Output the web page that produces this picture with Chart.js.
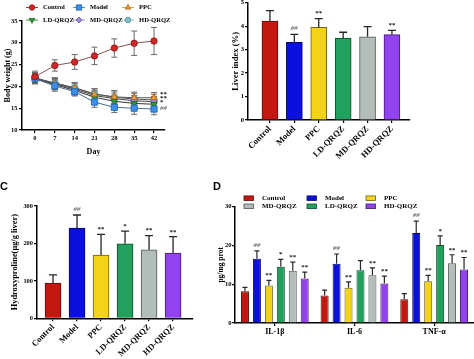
<!DOCTYPE html>
<html><head><meta charset="utf-8">
<script src="https://cdn.jsdelivr.net/npm/chart.js@4.4.0/dist/chart.umd.min.js"></script>
<style>
html,body{margin:0;padding:0;background:#fff;width:474px;height:359px;overflow:hidden;position:relative;}
canvas{position:absolute;}
.lab{position:absolute;font:bold 11px 'Liberation Sans',Arial,sans-serif;line-height:11px;color:#000;}
</style></head><body>
<canvas id="cA" width="185" height="162" style="left:0;top:0"></canvas>
<canvas id="cB" width="252" height="175" style="left:222px;top:-6px"></canvas>
<canvas id="cC" width="210" height="179" style="left:0;top:180px"></canvas>
<canvas id="cD" width="262" height="174" style="left:212px;top:185px"></canvas>
<div class="lab" style="left:0px;top:181px">C</div>
<div class="lab" style="left:213px;top:181px">D</div>
<script>
// ---------------- DATA ----------------
const days = [0, 7, 14, 21, 28, 35, 42];
const groups = ['Control', 'Model', 'PPC', 'LD-QRQZ', 'MD-QRQZ', 'HD-QRQZ'];

// A: body weight (g)
const bwControl   = [22.2, 24.8, 25.6, 27.0, 28.8, 29.9, 30.4];
const bwControlSD = [1.3, 1.3, 1.7, 2.0, 2.1, 2.8, 3.1];
const bwModel     = [21.8, 20.1, 18.8, 16.4, 15.2, 15.0, 14.8];
const bwModelSD   = [1.0, 1.2, 1.0, 1.2, 1.2, 1.4, 1.3];
const bwPPC       = [22.0, 20.6, 19.6, 18.2, 17.6, 17.4, 17.4];
const bwPPCSD     = [1.2, 1.3, 1.2, 1.2, 1.4, 1.3, 1.2];
const bwLD        = [21.7, 20.4, 19.1, 17.5, 16.6, 16.1, 15.9];
const bwLDSD      = [1.1, 1.2, 1.1, 1.3, 1.2, 1.2, 1.2];
const bwMD        = [21.8, 20.6, 19.4, 17.9, 17.2, 16.7, 16.5];
const bwMDSD      = [1.2, 1.2, 1.2, 1.2, 1.3, 1.2, 1.2];
const bwHD        = [21.9, 20.8, 19.7, 18.3, 17.5, 17.1, 16.9];
const bwHDSD      = [1.1, 1.2, 1.2, 1.2, 1.5, 1.3, 1.3];
const bwSigText   = ['**', '**', '*', '##'];
const bwSigValue  = [18.2, 17.2, 16.3, 14.9];

// B: liver index (%)
const liverIndex   = [4.22, 3.31, 3.95, 3.49, 3.55, 3.64];
const liverIndexSD = [0.44, 0.34, 0.37, 0.25, 0.43, 0.18];
const liverSig     = ['', '##', '**', '', '', '**'];

// C: hydroxyproline
const hyp    = [94, 241, 169, 199, 183, 174];
const hypSD  = [22, 35, 55, 34, 38, 44];
const hypSig = ['', '##', '**', '*', '**', '**'];

// D: cytokines (values listed per group)
const cytokines = ['IL-1β', 'IL-6', 'TNF-α'];
const il1b    = [8.2, 16.6, 9.7, 14.5, 13.5, 11.5];
const il1bSD  = [1.0, 2.0, 1.3, 1.9, 2.2, 1.6];
const il1bSig = ['', '##', '**', '*', '**', '**'];
const il6     = [7.1, 15.3, 9.1, 13.6, 12.3, 10.2];
const il6SD   = [1.4, 2.5, 1.5, 2.5, 1.9, 1.9];
const il6Sig  = ['', '##', '**', '', '**', '**'];
const tnf     = [6.1, 23.2, 10.8, 20.1, 15.4, 13.8];
const tnfSD   = [1.5, 3.1, 1.5, 2.4, 2.2, 3.1];
const tnfSig  = ['', '##', '**', '*', '**', '**'];
const legendOrderD = [0, 1, 2, 4, 3, 5];

// ---------------- STYLE ----------------
const SERIF = "'Liberation Serif','Times New Roman',serif";
Chart.defaults.font.family = SERIF;
Chart.defaults.color = '#000';
const barFill = ['#c3170f', '#0c10dc', '#f2d316', '#21a05e', '#b3bdba', '#9342f0'];
const barEdge = ['#5c0a06', '#04086a', '#6e6010', '#0d4a2a', '#4f5654', '#3f1a70'];
const ptFill  = ['#d02828', '#3b8fe6', '#ee9a3c', '#2f9a3a', '#9a8ae0', '#86c0c6'];
const ptEdge  = ['#8a1010', '#1f5fb0', '#b06010', '#1a6020', '#5a4aa0', '#4a8890'];
const lineCol = ['#8a5050', '#4a6a98', '#555555', '#333333', '#444444', '#555555'];
const ptStyle = ['circle', 'rect', 'triangle', 'triangle', 'rectRot', 'circle'];
const ptRot   = [0, 0, 0, 180, 0, 0];
const ptRad   = [3.2, 4.4, 3.8, 3.8, 3.4, 3.2];

const val = d => (d !== null && typeof d === 'object') ? d.y : d;

function drawErrors(chart, o) {
  const ctx = chart.ctx, yS = chart.scales.y;
  chart.data.datasets.forEach((ds, di) => {
    if (!ds.sd) return;
    const meta = chart.getDatasetMeta(di);
    meta.data.forEach((el, i) => {
      const v = val(ds.data[i]), sd = ds.sd[i];
      const top = yS.getPixelForValue(v + sd);
      const bot = o.both ? yS.getPixelForValue(v - sd) : el.y;
      ctx.save();
      ctx.strokeStyle = o.color || ds.borderColor;
      ctx.lineWidth = o.width;
      ctx.beginPath();
      ctx.moveTo(el.x, top); ctx.lineTo(el.x, bot);
      ctx.moveTo(el.x - o.cap, top); ctx.lineTo(el.x + o.cap, top);
      if (o.both) { ctx.moveTo(el.x - o.cap, bot); ctx.lineTo(el.x + o.cap, bot); }
      ctx.stroke();
      ctx.restore();
    });
  });
}
const errorBarsPlugin = {
  id: 'errorBars',
  beforeDatasetsDraw(chart, a, o) { if (o.under) drawErrors(chart, o); },
  afterDatasetsDraw(chart, a, o) { if (!o.under) drawErrors(chart, o); }
};

function drawSig(ctx, t, x, y, align) {
  ctx.save();
  const hash = t[0] === '#';
  ctx.font = (hash ? 'italic ' : '') + 'bold 7px ' + SERIF;
  ctx.fillStyle = hash ? '#707070' : '#1a1a1a';
  ctx.textAlign = align || 'center';
  ctx.textBaseline = 'middle';
  ctx.fillText(t, x, y);
  ctx.restore();
}
const sigPlugin = {
  id: 'sigMarks',
  afterDatasetsDraw(chart) {
    const ctx = chart.ctx, yS = chart.scales.y;
    chart.data.datasets.forEach((ds, di) => {
      if (!ds.sig) return;
      chart.getDatasetMeta(di).data.forEach((el, i) => {
        const t = ds.sig[i];
        if (!t) return;
        const top = yS.getPixelForValue(val(ds.data[i]) + ds.sd[i]);
        drawSig(ctx, t, el.x, top - (t[0] === '#' ? 6 : 5));
      });
    });
  }
};

function marker(ctx, style, x, y, r, rot, fill, edge) {
  ctx.save();
  ctx.fillStyle = fill; ctx.strokeStyle = edge; ctx.lineWidth = 0.8;
  ctx.beginPath();
  if (style === 'circle') ctx.arc(x, y, r, 0, Math.PI * 2);
  else if (style === 'rect') { const s = r * Math.SQRT1_2; ctx.rect(x - s, y - s, 2 * s, 2 * s); }
  else if (style === 'rectRot') { ctx.moveTo(x, y - r); ctx.lineTo(x + r, y); ctx.lineTo(x, y + r); ctx.lineTo(x - r, y); ctx.closePath(); }
  else {
    let rad = rot * Math.PI / 180;
    for (let k = 0; k < 3; k++) {
      const px = x + Math.sin(rad) * r, py = y - Math.cos(rad) * r;
      if (k === 0) ctx.moveTo(px, py); else ctx.lineTo(px, py);
      rad += 2 * Math.PI / 3;
    }
    ctx.closePath();
  }
  ctx.fill(); ctx.stroke();
  ctx.restore();
}

function yAxis(o) {
  return {
    type: 'linear', min: o.min, max: o.max,
    afterFit: s => { s.width = o.width; },
    border: { display: true, color: '#000', width: 1.5 },
    grid: { drawOnChartArea: false, drawTicks: true, tickLength: 3, color: '#000', tickColor: '#000', lineWidth: 1.2 },
    ticks: { stepSize: o.step, color: '#000', font: { family: SERIF, weight: 'bold', size: o.tickSize }, padding: o.tickPad },
    title: { display: true, text: o.title, color: '#000', font: { family: SERIF, weight: 'bold', size: o.titleSize }, padding: { top: o.titlePad, bottom: 0 } }
  };
}
const baseOpts = { responsive: false, animation: false, events: [], devicePixelRatio: 1 };

// ---------------- PANEL A ----------------
const bwSeries = [bwControl, bwModel, bwPPC, bwLD, bwMD, bwHD];
const bwSDs = [bwControlSD, bwModelSD, bwPPCSD, bwLDSD, bwMDSD, bwHDSD];
const legendA = {
  id: 'legendA',
  afterDraw(chart) {
    const ctx = chart.ctx, colX = [32, 79, 128], rowY = [7.5, 20];
    chart.data.datasets.forEach((ds, i) => {
      const x = colX[i % 3], y = rowY[Math.floor(i / 3)];
      ctx.save();
      ctx.strokeStyle = ptFill[i]; ctx.lineWidth = 1;
      ctx.beginPath(); ctx.moveTo(x - 6, y); ctx.lineTo(x + 6, y); ctx.stroke();
      ctx.restore();
      marker(ctx, ptStyle[i], x, y, ptRad[i] * 0.85, ptRot[i], ptFill[i], ptEdge[i]);
      ctx.save();
      ctx.font = 'bold 6.6px ' + SERIF; ctx.fillStyle = '#000';
      ctx.textAlign = 'left'; ctx.textBaseline = 'middle';
      ctx.fillText(ds.label, x + 11, y);
      ctx.restore();
    });
  }
};
const bwSigPlugin = {
  id: 'bwSig',
  afterDatasetsDraw(chart) {
    const x = chart.scales.x.getPixelForValue(days[days.length - 1]) + 6;
    bwSigText.forEach((t, i) => drawSig(chart.ctx, t, x, chart.scales.y.getPixelForValue(bwSigValue[i]), 'left'));
  }
};
new Chart(document.getElementById('cA'), {
  type: 'line',
  data: {
    datasets: groups.map((g, i) => ({
      label: g,
      data: days.map((d, j) => ({ x: d, y: bwSeries[i][j] })),
      sd: bwSDs[i],
      borderColor: lineCol[i], borderWidth: 1, backgroundColor: ptFill[i],
      pointStyle: ptStyle[i], pointRotation: ptRot[i], pointRadius: ptRad[i],
      pointBackgroundColor: ptFill[i], pointBorderColor: ptEdge[i], pointBorderWidth: 0.8,
      tension: 0
    }))
  },
  options: Object.assign({}, baseOpts, {
    layout: { padding: { left: 0, top: 21, right: 20, bottom: 0 } },
    plugins: { legend: { display: false }, tooltip: { enabled: false },
      errorBars: { under: true, both: true, cap: 3, width: 1, color: '#6a6a6a' } },
    scales: {
      x: {
        type: 'linear', min: -4.59, max: 45.88,
        afterBuildTicks: s => { s.ticks = days.map(d => ({ value: d })); },
        afterFit: s => { s.height = 32; },
        border: { display: true, color: '#000', width: 1.5 },
        grid: { drawOnChartArea: false, drawTicks: true, tickLength: 3, color: '#000', tickColor: '#000', lineWidth: 1.2 },
        ticks: { autoSkip: false, maxRotation: 0, color: '#000', font: { family: SERIF, weight: 'bold', size: 6.6 }, padding: 1 },
        title: { display: true, text: 'Day', color: '#000', font: { family: SERIF, weight: 'bold', size: 8 }, padding: { top: 0, bottom: 5 } }
      },
      y: yAxis({ min: 10, max: 35, step: 5, width: 22, tickSize: 6.4, tickPad: 1.5, title: 'Body weight (g)', titleSize: 8, titlePad: 3 })
    }
  }),
  plugins: [errorBarsPlugin, legendA, bwSigPlugin]
});

// ---------------- PANEL B & C (single-series bars) ----------------
function groupBar(id, values, sds, sigs, o) {
  new Chart(document.getElementById(id), {
    type: 'bar',
    data: {
      datasets: [{
        label: o.label,
        data: values.map((v, i) => ({ x: i, y: v })),
        sd: sds, sig: sigs,
        backgroundColor: barFill, borderColor: barEdge, borderWidth: 1,
        barThickness: 16
      }]
    },
    options: Object.assign({}, baseOpts, {
      layout: { padding: o.padding },
      plugins: { legend: { display: false }, tooltip: { enabled: false },
        errorBars: { under: false, both: false, cap: 4, width: 1.3, color: '#262626' } },
      scales: {
        x: {
          type: 'linear', min: o.xmin, max: o.xmax, offset: false,
          afterBuildTicks: s => { s.ticks = groups.map((g, i) => ({ value: i })); },
          afterFit: s => { s.height = o.xHeight; },
          border: { display: true, color: '#000', width: 1.5 },
          grid: { offset: false, drawOnChartArea: false, drawTicks: true, tickLength: 3, color: '#000', tickColor: '#000', lineWidth: 1.2 },
          ticks: { autoSkip: false, minRotation: 45, maxRotation: 45, color: '#000',
            font: { family: SERIF, weight: 'bold', size: o.xFont }, padding: 1,
            callback: v => groups[v] }
        },
        y: yAxis(o.y)
      }
    }),
    plugins: [errorBarsPlugin, sigPlugin]
  });
}
groupBar('cB', liverIndex, liverIndexSD, liverSig, {
  label: 'Liver index (%)',
  padding: { left: 0, top: 8.7, right: 64, bottom: 0 },
  xmin: -0.9, xmax: 5.74, xHeight: 49, xFont: 8.6,
  y: { min: 0, max: 5, step: 1, width: 26, tickSize: 6.6, tickPad: 1, title: 'Liver index (%)', titleSize: 8.6, titlePad: 9 }
});
groupBar('cC', hyp, hypSD, hypSig, {
  label: 'Hydroxyproline',
  padding: { left: 0, top: 26, right: 17, bottom: 0 },
  xmin: -0.667, xmax: 5.83, xHeight: 40.7, xFont: 8.4,
  y: { min: 0, max: 300, step: 100, width: 37, tickSize: 6.4, tickPad: 1, title: 'Hydroxyproline(μg/g liver)', titleSize: 8.4, titlePad: 10 }
});

// ---------------- PANEL D ----------------
const dVals = [il1b, il6, tnf], dSDs = [il1bSD, il6SD, tnfSD], dSigs = [il1bSig, il6Sig, tnfSig];
const legendD = {
  id: 'legendD',
  afterDraw(chart) {
    const ctx = chart.ctx, colX = [32, 95, 154], rowY = [13.2, 21.3];
    legendOrderD.forEach((di, k) => {
      const ds = chart.data.datasets[di];
      const x = colX[k % 3], y = rowY[Math.floor(k / 3)];
      ctx.save();
      ctx.fillStyle = ds.backgroundColor; ctx.fillRect(x, y - 2.3, 9.5, 4.6);
      ctx.strokeStyle = ds.borderColor; ctx.lineWidth = 0.8; ctx.strokeRect(x, y - 2.3, 9.5, 4.6);
      ctx.font = 'bold 7px ' + SERIF; ctx.fillStyle = '#000';
      ctx.textBaseline = 'middle'; ctx.textAlign = 'left';
      ctx.fillText(ds.label, x + 18, y);
      ctx.restore();
    });
  }
};
new Chart(document.getElementById('cD'), {
  type: 'bar',
  data: {
    labels: cytokines,
    datasets: groups.map((g, i) => ({
      label: g,
      data: dVals.map(a => a[i]),
      sd: dSDs.map(a => a[i]),
      sig: dSigs.map(a => a[i]),
      backgroundColor: barFill[i], borderColor: barEdge[i], borderWidth: 1,
      categoryPercentage: 0.9, barPercentage: 0.67
    }))
  },
  options: Object.assign({}, baseOpts, {
    layout: { padding: { left: 0, top: 21.7, right: 0, bottom: 0 } },
    plugins: { legend: { display: false }, tooltip: { enabled: false },
      errorBars: { under: false, both: false, cap: 2.5, width: 1.2, color: '#262626' } },
    scales: {
      x: {
        type: 'category', offset: true,
        afterFit: s => { s.height = 36; },
        border: { display: true, color: '#000', width: 1.5 },
        grid: { offset: false, drawOnChartArea: false, drawTicks: true, tickLength: 3, color: '#000', tickColor: '#000', lineWidth: 1.2 },
        ticks: { maxRotation: 0, color: '#000', font: { family: SERIF, weight: 'bold', size: 8 }, padding: 1 }
      },
      y: yAxis({ min: 0, max: 30, step: 10, width: 23, tickSize: 6.6, tickPad: 0.5, title: 'pg/mg prot', titleSize: 7.5, titlePad: 4.5 })
    }
  }),
  plugins: [errorBarsPlugin, sigPlugin, legendD]
});
</script>
</body></html>
